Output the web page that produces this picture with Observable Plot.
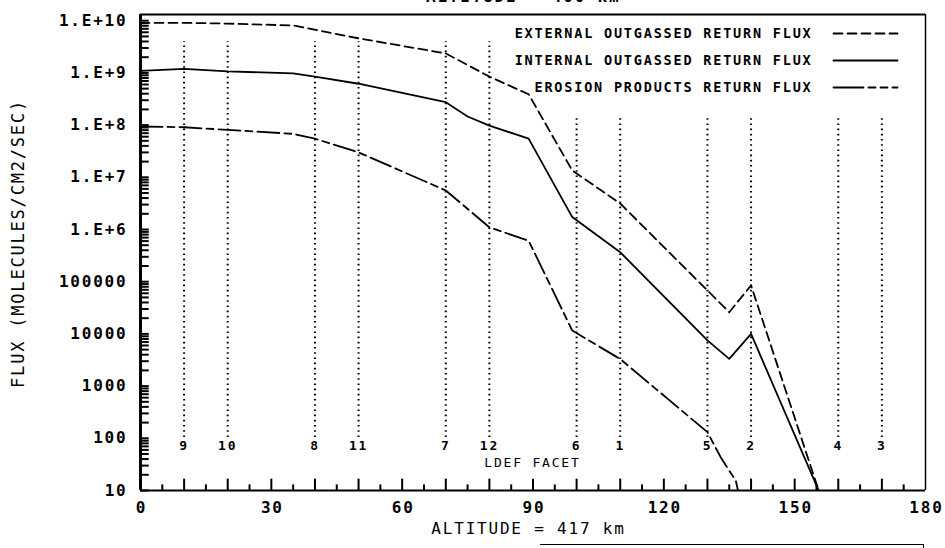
<!DOCTYPE html>
<html><head><meta charset="utf-8">
<script src="https://cdn.jsdelivr.net/npm/d3@7"></script>
<script src="https://cdn.jsdelivr.net/npm/@observablehq/plot@0.6"></script>
<style>
html,body{margin:0;padding:0;background:#fff;overflow:hidden;}
#wrap{position:relative;width:945px;height:548px;}
#wrap svg text{letter-spacing:1.8px;}
#toptitle{position:absolute;left:426px;top:-11px;font:bold 16px "DejaVu Sans Mono",monospace;letter-spacing:1.8px;line-height:16px;white-space:nowrap;color:#000;}
#nextbox{position:absolute;left:540px;top:544px;width:383px;height:10px;border-top:1.5px solid #000;border-right:1.5px solid #000;}
</style></head><body>
<div id="wrap"><div id="toptitle">ALTITUDE = 400 km</div><div id="nextbox"></div></div>
<script>
// ---- data ----
const seriesNames = ["EXTERNAL OUTGASSED RETURN FLUX", "INTERNAL OUTGASSED RETURN FLUX", "EROSION PRODUCTS RETURN FLUX"];
const externalX = [0, 10, 20, 35, 50, 70, 80, 89, 99, 110, 135, 140, 155.5];
const externalY = [9.1e9, 9.1e9, 8.8e9, 8.1e9, 4.6e9, 2.36e9, 8.5e8, 3.9e8, 1.35e7, 3.15e6, 2.6e4, 8.5e4, 10];
const internalX = [0, 10, 20, 35, 40, 50, 70, 75, 80, 89, 99, 110, 130, 135, 140, 155.5];
const internalY = [1.09e9, 1.2e9, 1.07e9, 9.8e8, 8.5e8, 6.2e8, 2.75e8, 1.46e8, 9.8e7, 5.5e7, 1.73e6, 3.67e5, 7.5e3, 3.33e3, 1.0e4, 10];
const erosionX = [0, 10, 20, 35, 40, 50, 70, 80, 89, 99, 110, 130, 133, 135, 136.5, 137];
const erosionY = [9.4e7, 9.1e7, 8.1e7, 6.8e7, 5.5e7, 3.0e7, 5.6e6, 1.1e6, 6.1e5, 1.16e4, 3.3e3, 131, 44, 24, 15.5, 10];
const facetAngles = [10, 20, 40, 50, 70, 80, 100, 110, 130, 140, 160, 170];
const facetLabels = ["9", "10", "8", "11", "7", "12", "6", "1", "5", "2", "4", "3"];
const yTickValues = [10, 100, 1e3, 1e4, 1e5, 1e6, 1e7, 1e8, 1e9, 1e10];
const yTickLabels = ["10", "100", "1000", "10000", "100000", "1.E+6", "1.E+7", "1.E+8", "1.E+9", "1.E+10"];
const xTickValues = [0, 30, 60, 90, 120, 150, 180];
const xTickLabels = ["0", "30", "60", "90", "120", "150", "180"];
const yTitle = "FLUX (MOLECULES/CM2/SEC)";
const xTitle = "ALTITUDE = 417 km";
const facetTitle = "LDEF FACET";

// ---- layout helpers (pixel -> data for decorations) ----
const W = 945, H = 548, mL = 140, mR = 20, mT = 14, mB = 58;
const yMin = 10, yMax = 1.315e10;
const plotTop = mT, plotBottom = H - mB;
const logSpan = Math.log10(yMax / yMin);
const yAt = px => yMin * 10 ** ((plotBottom - px) / (plotBottom - plotTop) * logSpan);
const xAt = px => (px - mL) / (W - mL - mR) * 180;

const mono = "DejaVu Sans Mono, monospace";
const pts = (xs, ys) => xs.map((x, i) => ({x, y: ys[i]}));

const yMinor = [];
for (let k = 1; k <= 9; k++) for (let m = 1; m <= 9; m++) yMinor.push(m * 10 ** k);
yMinor.push(1e10);
const xMinor = d3.range(5, 180, 5);

const legendX = xAt(812), legendS1 = xAt(833), legendS2 = xAt(897);
const legendRows = [33, 60, 87].map(yAt);
const dashes = ["9,5", null, "22,5,7,5"];
const legendDashes = ["9,5", null, "30,5,7,5,7,5,7"];

const marks = [
  // facet dotted lines
  Plot.ruleX(facetAngles, {x: d => d, y1: yAt(437), y2: (d, i) => i < 6 ? yAt(41) : yAt(118),
    stroke: "#000", strokeWidth: 2, strokeDasharray: "1.6,3.6"}),
  Plot.text(facetAngles, {x: d => d, y: yAt(445), text: (d, i) => facetLabels[i],
    fontFamily: mono, fontSize: 13, fontWeight: "bold"}),
  Plot.text([facetTitle], {x: xAt(532), y: yAt(462), fontFamily: mono, fontSize: 13}),
  // frame
  Plot.ruleY([yMax], {stroke: "#000", strokeWidth: 2}),
  Plot.ruleX([180], {stroke: "#000", strokeWidth: 1.5}),
  Plot.ruleX([0], {stroke: "#000", strokeWidth: 3}),
  Plot.ruleY([10], {stroke: "#000", strokeWidth: 2}),
  // ticks (inward)
  Plot.ruleY(yMinor, {y: d => d, x1: 0, x2: 2.0, stroke: "#000", strokeWidth: 2}),
  Plot.ruleX(xMinor, {x: d => d, y1: 10, y2: d => (d % 10 === 0 ? 16.5 : 12.8), stroke: "#000", strokeWidth: 2}),
  Plot.text(yTickValues, {x: 0, y: d => d, text: (d, i) => yTickLabels[i], textAnchor: "end", dx: -13,
    fontFamily: mono, fontSize: 16, fontWeight: "bold"}),
  Plot.text(xTickValues, {x: d => d, y: 10, text: (d, i) => xTickLabels[i], dy: 17, dx: 1,
    fontFamily: mono, fontSize: 16, fontWeight: "bold"}),
  Plot.text([yTitle], {frameAnchor: "left", textAnchor: "middle", dx: -122, dy: -9, rotate: -90,
    fontFamily: mono, fontSize: 17}),
  Plot.text([xTitle], {x: xAt(528), frameAnchor: "bottom", dy: 43, fontFamily: mono, fontSize: 16}),
  // series
  Plot.line(pts(externalX, externalY), {x: "x", y: "y", stroke: "#000", strokeWidth: 1.8, strokeDasharray: dashes[0], clip: true}),
  Plot.line(pts(internalX, internalY), {x: "x", y: "y", stroke: "#000", strokeWidth: 1.8, clip: true}),
  Plot.line(pts(erosionX, erosionY), {x: "x", y: "y", stroke: "#000", strokeWidth: 1.8, strokeDasharray: dashes[2], clip: true}),
  // legend
  Plot.text(seriesNames, {x: legendX, y: (d, i) => legendRows[i], text: d => d, textAnchor: "end",
    fontFamily: mono, fontSize: 13.5, fill: "#fff", stroke: "#fff", strokeWidth: 5}),
  Plot.text(seriesNames, {x: legendX, y: (d, i) => legendRows[i], text: d => d, textAnchor: "end",
    fontFamily: mono, fontSize: 13.5, fontWeight: "bold"}),
  ...seriesNames.map((s, i) => Plot.line([{x: legendS1, y: legendRows[i]}, {x: legendS2, y: legendRows[i]}],
    {x: "x", y: "y", stroke: "#000", strokeWidth: 1.8, strokeDasharray: legendDashes[i]}))
];

const chart = Plot.plot({
  width: W, height: H,
  marginLeft: mL, marginRight: mR, marginTop: mT, marginBottom: mB,
  x: {domain: [0, 180], axis: null},
  y: {type: "log", domain: [yMin, yMax], axis: null},
  style: {background: "transparent", color: "#000"},
  marks
});
document.getElementById("wrap").prepend(chart);
</script>
</body></html>
